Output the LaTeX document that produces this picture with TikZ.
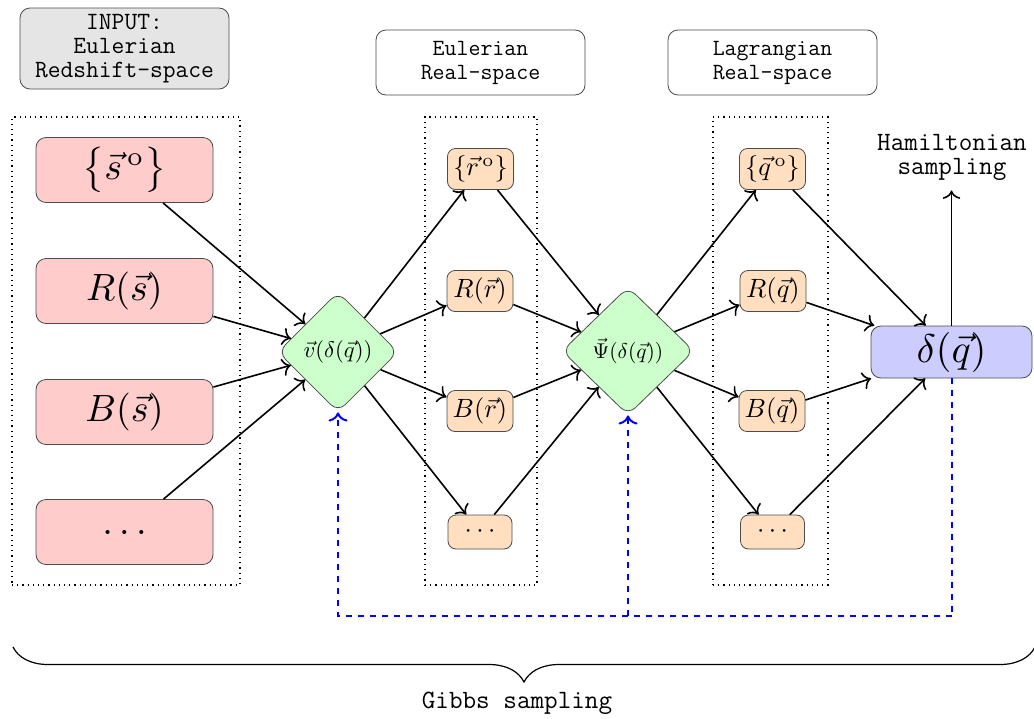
\documentclass[tikz,border=0pt]{standalone}
\usepackage{graphicx}
\usetikzlibrary{shapes.geometric,decorations.pathreplacing,arrows.meta}
\newcommand{\redm}[1]{\scalebox{1.9}{$#1$}}
\newcommand{\orm}[1]{\scalebox{1.32}{$#1$}}
\newcommand{\diamm}[1]{\scalebox{1.13}{$#1$}}
\begin{document}
\begin{tikzpicture}[x=0.5pt,y=-0.5pt,
  redbox/.style={draw=black!70, fill=red!20, rounded corners=5pt, minimum width=88.5pt, minimum height=32.5pt, inner sep=2pt},
  orbox/.style={draw=black!70, fill=orange!25, rounded corners=4pt, minimum width=33pt, minimum height=20.5pt, inner sep=2.5pt},
  diam/.style={diamond, draw=black!70, fill=green!20, rounded corners=5pt, inner sep=0pt},
  hdr/.style={draw=black!70, rounded corners=5pt, minimum width=104.5pt, align=center, inner sep=2pt},
  dotbox/.style={draw, dotted, line width=0.6pt, inner sep=0pt},
  conn/.style={-{To[scale=1.25]}, line width=0.8pt},
  fb/.style={draw=blue, dashed, line width=1pt},
  ttlabel/.style={align=center, font=\ttfamily\fontsize{13.2}{12}\selectfont},
]
\useasboundingbox (0,0) rectangle (1034,718);

% headers
\node[hdr, fill=gray!20, minimum height=40.5pt, font=\ttfamily\fontsize{12.4}{12}\selectfont] (h1) at (124.5,48.5) {INPUT:\\Eulerian\\Redshift-space};
\node[hdr, fill=white, minimum height=32.5pt, font=\ttfamily\fontsize{11.6}{12}\selectfont] (h2) at (480.5,62.5) {Eulerian\\Real-space};
\node[hdr, fill=white, minimum height=32.5pt, font=\ttfamily\fontsize{11.6}{12}\selectfont] (h3) at (772.5,62.5) {Lagrangian\\Real-space};

% dotted groups
\node[dotbox, minimum width=114pt, minimum height=234pt] (g1) at (126,351) {};
\node[dotbox, minimum width=56pt, minimum height=234pt] (g2) at (481,351) {};
\node[dotbox, minimum width=57.5pt, minimum height=234pt] (g3) at (770.5,351) {};

% red input boxes
\node[redbox] (s0) at (124.5,170) {\redm{\big\{\vec{s}^{\,\mathrm{o}}\big\}}};
\node[redbox] (rs) at (124.5,291) {\redm{R(\vec{s})}};
\node[redbox] (bs) at (124.5,412) {\redm{B(\vec{s})}};
\node[redbox] (ds) at (124.5,532) {\redm{\dots}};

% diamonds
\node[diam, minimum width=60pt, minimum height=60pt] (d1) at (338,352) {\diamm{\vec{v}(\delta(\vec{q}))}};
\node[diam, minimum width=66pt, minimum height=64pt] (d2) at (628,351) {\scalebox{1.07}{$\vec{\Psi}(\delta(\vec{q}))$}};

% middle orange
\node[orbox] (r0) at (480.5,169) {\orm{\{\vec{r}^{\,\mathrm{o}}\}}};
\node[orbox] (rr) at (480,291) {\orm{R(\vec{r})}};
\node[orbox] (br) at (480,411) {\orm{B(\vec{r})}};
\node[orbox, minimum height=17pt, minimum width=32pt] (dr) at (480,532) {\orm{\cdots}};

% right orange
\node[orbox] (q0) at (772.5,169) {\orm{\{\vec{q}^{\,\mathrm{o}}\}}};
\node[orbox] (rq) at (773,291) {\orm{R(\vec{q})}};
\node[orbox] (bq) at (772,411) {\orm{B(\vec{q})}};
\node[orbox, minimum height=17pt, minimum width=32pt] (dq) at (772.5,532) {\orm{\cdots}};

% delta
\node[draw=black!70, fill=blue!20, rounded corners=5pt, minimum width=80.5pt, minimum height=26pt, inner sep=1pt] (delta) at (951.5,352) {\scalebox{2}{$\delta(\vec{q})$}};

% hamiltonian
\node[ttlabel, inner sep=5pt] (ham) at (952,157) {Hamiltonian\\sampling};
\draw[conn] (delta.north) -- (delta.north |- ham.south);

% connectors
\foreach \a in {s0,rs,bs,ds} \draw[conn] (\a) -- (d1);
\foreach \a in {r0,rr,br,dr} {\draw[conn] (d1) -- (\a); \draw[conn] (\a) -- (d2);}
\foreach \a in {q0,rq,bq,dq} {\draw[conn] (d2) -- (\a); \draw[conn] (\a) -- (delta);}

% feedback
\coordinate (fbl) at (338,616);
\coordinate (fbr) at (952,616);
\draw[fb] (delta.south -| fbr) -- (fbr);
\draw[fb, -{To[scale=1.2]}] (fbr) -- (fbl) -- (d1.south);
\draw[fb, -{To[scale=1.2]}] (d2.south |- fbl) -- (d2.south);

% brace
\coordinate (bl) at (13,647);
\coordinate (br2) at (1035,647);
\draw[decorate, decoration={brace, mirror, amplitude=17.5pt}, line width=0.6pt] (bl) -- (br2);
\node[ttlabel] (gibbs) at (517,703) {Gibbs sampling};
\end{tikzpicture}
\end{document}
